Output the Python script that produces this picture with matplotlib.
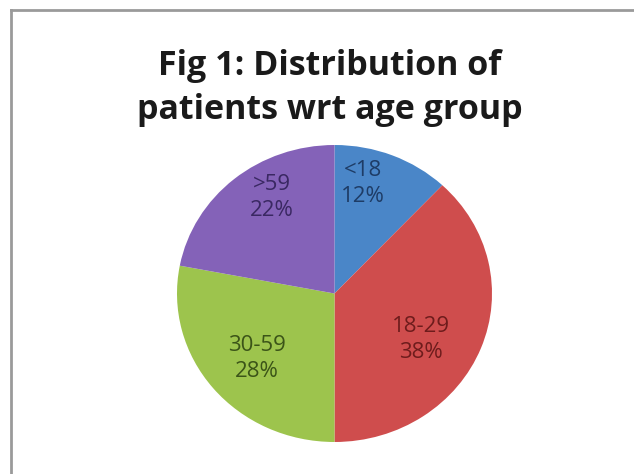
import numpy as np
import matplotlib.pyplot as plt
from matplotlib.lines import Line2D

groups = ['<18', '18-29', '30-59', '>59']
shares = [12, 38, 28, 22]
colors = ['#4A86C8', '#CF4D4D', '#9DC44D', '#8462B8']
text_colors = ['#1E3C66', '#6E1C1C', '#3B5418', '#3A2862']
# label placement: radius fraction and angle nudge (degrees) from the slice middle
label_r = [0.76, 0.63, 0.66, 0.76]
label_nudge = [8, -8, 2, -8]

fig = plt.figure(figsize=(6.34, 4.74), dpi=100)
fig.patch.set_facecolor('white')

# chart border, only left and top edges show in the picture
x0, y0 = 11 / 634, 1 - 10 / 474
fig.add_artist(Line2D([x0, x0], [0, y0], transform=fig.transFigure, color='#9a9a9a', linewidth=2))
fig.add_artist(Line2D([x0, 1], [y0, y0], transform=fig.transFigure, color='#9a9a9a', linewidth=2))

ax = fig.add_axes([177 / 634, 1 - 442 / 474, 315 / 634, 297 / 474])
wedges, _ = ax.pie(shares, colors=colors, startangle=90, counterclock=False,
                   wedgeprops=dict(linewidth=0))
ax.set_aspect('auto')
ax.set_xlim(-1, 1)
ax.set_ylim(-1, 1)
ax.axis('off')

for w, g, s, r, nd, tc in zip(wedges, groups, shares, label_r, label_nudge, text_colors):
    mid = np.deg2rad((w.theta1 + w.theta2) / 2 + nd)
    ax.text(r * np.cos(mid), r * np.sin(mid), f'{g}\n{s}%', ha='center', va='center',
            fontsize=16, color=tc, family='Open Sans', linespacing=1.3)

title_lines = ['Fig 1: Distribution of', 'patients wrt age group']
for line, yb in zip(title_lines, [75, 119]):
    fig.text(0.52, 1 - yb / 474, line, ha='center', va='baseline', fontsize=24.5,
             fontweight='bold', family='Open Sans', color='#1a1a1a')

fig.savefig('out.png', dpi=100, facecolor='white')
